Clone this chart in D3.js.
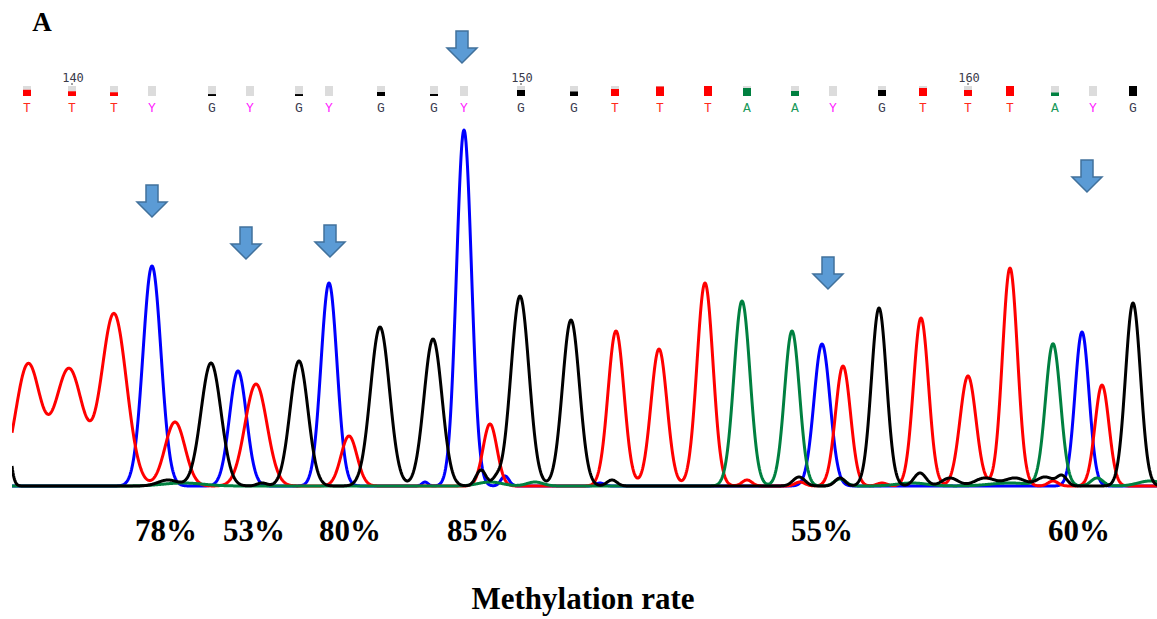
<!DOCTYPE html>
<style>
  body { margin: 0; background: #fff; }
  svg { display: block; }
  .trace { fill: none; stroke-width: 3; stroke-linejoin: round; }
  .base { font-family: 'Liberation Mono', monospace; font-size: 13px; text-anchor: middle; }
  .tick { font-family: 'DejaVu Sans Mono', monospace; font-size: 12px; fill: #3a3a4a; text-anchor: middle; }
  .pct { font-family: 'Liberation Serif', serif; font-weight: bold; font-size: 31px; text-anchor: middle; }
</style>
<body>
</body>
<script src="https://cdn.jsdelivr.net/npm/d3@7"></script>
<script>
  const w = 1157, h = 619;

  // base calls, first base number and their scan positions
  const firstBase = 139;
  const bases = 'TTTYGYGYGGYGGTTTAAYGTTTAYG'.split('');
  const basePos = [15, 60, 102, 140, 200, 238, 287, 317, 369, 422, 452, 509, 562, 603, 648,
                   696, 735, 783, 821, 870, 911, 956, 998, 1043, 1081, 1121];
  const quality = [0.62, 0.47, 0.37, 0, 0.19, 0, 0.19, 0, 0.4, 0.2, 0, 0.6, 0.45, 0.7, 0.95,
                   1, 0.8, 0.5, 0, 0.6, 0.8, 0.6, 1, 0.35, 0, 1];

  // peaks per dye: [scan, height, width]
  const peaksT = [[16, 121, 12.5], [57, 117, 14], [102, 172, 12.5], [163, 64, 10], [244, 102, 11],
                  [337, 50, 8], [478, 62, 7], [604, 155, 8], [647, 137, 8], [693, 203, 8],
                  [735, 6, 5], [788, 4, 5], [831, 120, 7.5], [870, 3, 5], [909, 168, 7.5],
                  [956, 110, 8], [998, 218, 7.5], [1041, 5, 5], [1090, 101, 7]];
  const peaksC = [[140, 220, 9], [226, 115, 8.5], [317, 203, 8], [413, 4, 3], [452, 356, 7.5],
                  [493, 10, 4], [588, 3, 4], [810, 142, 8], [1070, 154, 7]];
  const peaksA = [[171, 3, 20], [478, 4, 12], [523, 4, 8], [730, 185, 8], [780, 155, 7.5],
                  [828, 7, 6], [900, 3, 15], [998, 3, 20], [1041, 142, 7.5], [1085, 8, 6],
                  [1138, 5, 12]];
  const peaksG = [[-10, 148, 5], [156, 6, 10], [199, 123, 10], [250, 3, 5], [287, 125, 9],
                  [368, 159, 9.5], [421, 147, 9], [469, 16, 5], [484, 6, 4], [508, 190, 9],
                  [559, 166, 8.5], [600, 6, 5], [787, 9, 6], [828, 8, 5], [867, 178, 7.5],
                  [908, 13, 6], [938, 8, 8], [973, 8, 10], [1003, 8, 10], [1033, 9, 8],
                  [1050, 10, 5], [1121, 183, 7.5]];

  // methylation sites: arrow scan/level, label scan and text
  const arrowScan = [140, 234, 318, 450, 816, 1075];
  const arrowLevel = [269, 227, 229, 423, 197, 294];
  const labelScan = [154, 242, 338, 466, 810, 1067];
  const rates = ['78%', '53%', '80%', '85%', '55%', '60%'];

  const dyeColor = {T: '#ff0000', C: '#0000ff', A: '#008040', G: '#000000'};
  const letterColor = {T: '#ff2a1a', G: '#3c3c50', Y: '#ff22ff', A: '#1a9a5a'};

  const x = d3.scaleLinear().domain([0, 1145]).range([12, 1157]);
  const y = d3.scaleLinear().domain([0, 360]).range([486, 126]);

  const svg = d3.select('body').append('svg').attr('width', w).attr('height', h);

  svg.append('clipPath').attr('id', 'clip')
    .append('rect').attr('x', x(0)).attr('y', 0).attr('width', x(1145) - x(0)).attr('height', 495);

  const trace = peaks => d3.range(0, 1146, 0.5).map(s => [s,
    d3.sum(peaks, p => p[1] * Math.exp(-((s - p[0]) ** 2) / (2 * p[2] * p[2])))]);
  const line = d3.line().x(d => x(d[0])).y(d => y(d[1]));

  const tg = svg.append('g').attr('clip-path', 'url(#clip)');
  [['C', peaksC], ['T', peaksT], ['A', peaksA], ['G', peaksG]].forEach(([dye, peaks]) => {
    tg.append('path').attr('class', 'trace')
      .attr('stroke', dyeColor[dye])
      .attr('d', line(trace(peaks)));
  });

  // base call row
  const row = svg.append('g');
  const sq = row.selectAll('g.sq').data(bases).join('g').attr('class', 'sq')
    .attr('transform', (d, i) => `translate(${x(basePos[i]) - 4}, 86)`);
  sq.append('rect').attr('width', 8).attr('height', 10).attr('fill', '#dcdcdc');
  sq.append('rect')
    .attr('y', (d, i) => 10 - 10 * quality[i])
    .attr('width', 8).attr('height', (d, i) => 10 * quality[i])
    .attr('fill', d => dyeColor[d] || 'none');
  row.selectAll('text.base').data(bases).join('text').attr('class', 'base')
    .attr('x', (d, i) => x(basePos[i])).attr('y', 112)
    .attr('fill', d => letterColor[d])
    .text(d => d);

  const tickIdx = d3.range(bases.length).filter(i => (firstBase + i) % 10 === 0);
  row.selectAll('text.tick').data(tickIdx).join('text').attr('class', 'tick')
    .attr('x', i => x(basePos[i]) + 1).attr('y', 82)
    .text(i => firstBase + i);
  row.selectAll('line.tick').data(tickIdx).join('line')
    .attr('x1', i => x(basePos[i])).attr('x2', i => x(basePos[i]))
    .attr('y1', 83).attr('y2', 85).attr('stroke', '#444');

  // arrows
  const arrow = 'M0,0 L-15,-15 L-6,-15 L-6,-32 L6,-32 L6,-15 L15,-15 Z';
  svg.selectAll('path.arrow').data(arrowScan).join('path').attr('class', 'arrow')
    .attr('transform', (d, i) => `translate(${x(d)}, ${y(arrowLevel[i])})`)
    .attr('d', arrow)
    .attr('fill', '#5b9bd5').attr('stroke', '#41719c').attr('stroke-width', 1.5);

  svg.selectAll('text.pct').data(rates).join('text').attr('class', 'pct')
    .attr('x', (d, i) => x(labelScan[i])).attr('y', 541)
    .text(d => d);

  svg.append('text').attr('class', 'pct')
    .attr('x', 583).attr('y', 609).text('Methylation rate');

  svg.append('text').attr('class', 'pct').style('font-size', '27px')
    .attr('x', 42).attr('y', 31).text('A');
</script>
